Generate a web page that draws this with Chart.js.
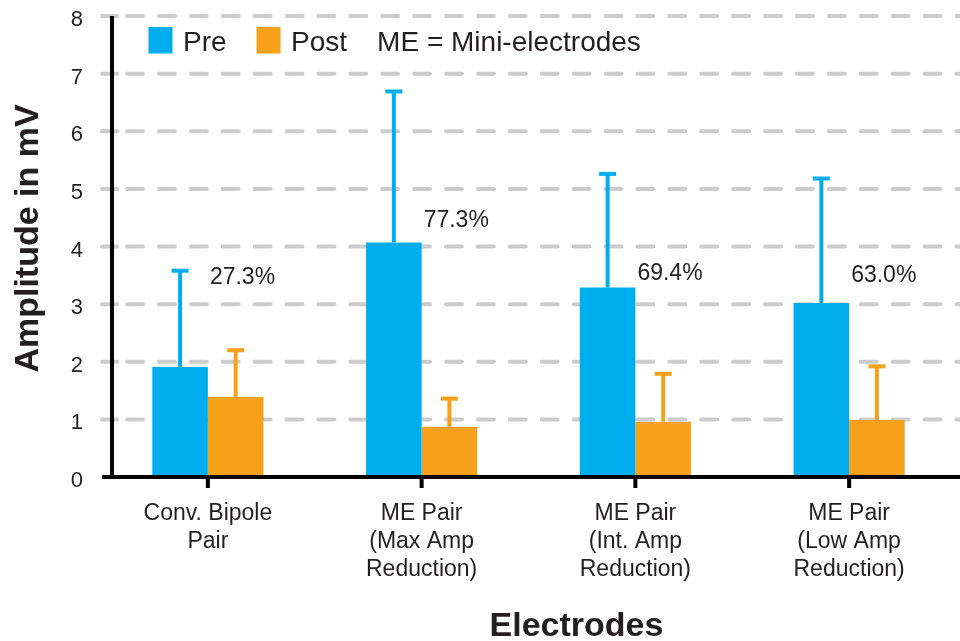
<!DOCTYPE html>
<html>
<head>
<meta charset="utf-8">
<script src="https://cdn.jsdelivr.net/npm/chart.js@4/dist/chart.umd.min.js"></script>
<style>
  html, body { margin: 0; padding: 0; background: #ffffff; }
  #wrap { width: 960px; height: 641px; }
</style>
</head>
<body>
<div id="wrap"><canvas id="chart" width="960" height="641"></canvas></div>
<script>
// Electrode groups (multi-line axis labels)
const categories = [
  ['Conv. Bipole', 'Pair'],
  ['ME Pair', '(Max Amp', 'Reduction)'],
  ['ME Pair', '(Int. Amp', 'Reduction)'],
  ['ME Pair', '(Low Amp', 'Reduction)']
];
// Mean amplitude (mV) before and after ablation
const preValues  = [1.91, 4.07, 3.29, 3.02];
const postValues = [1.39, 0.87, 0.96, 0.99];
// Standard deviation (upper error bar only)
const preSD  = [1.67, 2.62, 1.97, 2.16];
const postSD = [0.81, 0.49, 0.83, 0.93];
// Amplitude reduction per group
const reductionLabels = ['27.3%', '77.3%', '69.4%', '63.0%'];
const reductionLabelLevel = [3.5, 4.48, 3.56, 3.53];
const yTicks = [0, 1, 2, 3, 4, 5, 6, 7, 8];
const legendNote = 'ME = Mini-electrodes';

const BLUE = '#00AEEF';
const ORANGE = '#F7A11A';
const INK = '#231F20';
const FONT = '"Liberation Sans", Arial, Helvetica, sans-serif';

// Dashed horizontal grid with a short solid stub at the axis
const gridPlugin = {
  id: 'dashGrid',
  beforeDatasetsDraw(chart) {
    const ctx = chart.ctx;
    const y = chart.scales.y;
    ctx.save();
    ctx.strokeStyle = '#CCCCCC';
    ctx.lineWidth = 4;
    ctx.lineCap = 'round';
    yTicks.forEach(v => {
      if (v === 0) return;
      const py = y.getPixelForValue(v);
      ctx.setLineDash([]);
      ctx.beginPath();
      ctx.moveTo(102, py);
      ctx.lineTo(117, py);
      ctx.stroke();
      ctx.setLineDash([16, 15.9]);
      ctx.beginPath();
      ctx.moveTo(127, py);
      ctx.lineTo(962, py);
      ctx.stroke();
    });
    ctx.restore();
  }
};

// Axis lines, tick marks, error bars, reduction labels, legend, titles
const overlayPlugin = {
  id: 'overlay',
  afterDatasetsDraw(chart) {
    const ctx = chart.ctx;
    const xs = chart.scales.x;
    const ys = chart.scales.y;
    const zero = ys.getPixelForValue(0);
    const top = ys.getPixelForValue(8);

    ctx.save();

    // error bars
    const sds = [preSD, postSD];
    chart.data.datasets.forEach((ds, di) => {
      const meta = chart.getDatasetMeta(di);
      meta.data.forEach((bar, i) => {
        const yTop = ys.getPixelForValue(ds.data[i] + sds[di][i]);
        ctx.strokeStyle = ds.backgroundColor;
        ctx.lineCap = 'butt';
        ctx.lineWidth = 4;
        ctx.beginPath();
        ctx.moveTo(bar.x, bar.y);
        ctx.lineTo(bar.x, yTop);
        ctx.stroke();
        ctx.beginPath();
        ctx.moveTo(bar.x - 8.5, yTop);
        ctx.lineTo(bar.x + 8.5, yTop);
        ctx.stroke();
      });
    });

    // axis lines
    ctx.strokeStyle = '#000000';
    ctx.lineWidth = 4;
    ctx.lineCap = 'butt';
    ctx.beginPath();
    ctx.moveTo(112, top);
    ctx.lineTo(112, zero + 2);
    ctx.stroke();
    ctx.beginPath();
    ctx.moveTo(102, zero);
    ctx.lineTo(960, zero);
    ctx.stroke();
    categories.forEach((c, i) => {
      const px = xs.getPixelForValue(i);
      ctx.beginPath();
      ctx.moveTo(px, zero);
      ctx.lineTo(px, zero + 11);
      ctx.stroke();
    });

    // reduction percentages
    ctx.fillStyle = INK;
    ctx.font = '23px ' + FONT;
    ctx.textAlign = 'left';
    ctx.textBaseline = 'alphabetic';
    reductionLabels.forEach((t, i) => {
      const px = xs.getPixelForValue(i) + 2;
      const py = ys.getPixelForValue(reductionLabelLevel[i]) + 0.358 * 23;
      ctx.fillText(t, px, py);
    });

    // legend
    ctx.font = '28px ' + FONT;
    let lx = 148.5;
    const base = 50.7;
    chart.data.datasets.forEach(ds => {
      ctx.fillStyle = ds.backgroundColor;
      ctx.fillRect(lx, 27, 24, 26.5);
      lx += 24 + 10.5;
      ctx.fillStyle = INK;
      ctx.fillText(ds.label, lx, base);
      lx += ctx.measureText(ds.label).width + 30;
    });
    ctx.fillText(legendNote, lx, base);

    // axis titles
    ctx.font = 'bold 34px ' + FONT;
    ctx.textAlign = 'center';
    ctx.fillText('Electrodes', 576.5, 636);
    ctx.translate(38, 238.5);
    ctx.rotate(-Math.PI / 2);
    ctx.fillText('Amplitude in mV', 0, 0);

    ctx.restore();
  }
};

new Chart(document.getElementById('chart'), {
  type: 'bar',
  data: {
    labels: categories,
    datasets: [
      { label: 'Pre', data: preValues, backgroundColor: BLUE, borderWidth: 0,
        categoryPercentage: 0.52, barPercentage: 1.0 },
      { label: 'Post', data: postValues, backgroundColor: ORANGE, borderWidth: 0,
        categoryPercentage: 0.52, barPercentage: 1.0 }
    ]
  },
  options: {
    responsive: false,
    animation: false,
    devicePixelRatio: 1,
    layout: { padding: { top: 16, right: 4, left: 0, bottom: 0 } },
    plugins: {
      legend: { display: false },
      tooltip: { enabled: false }
    },
    scales: {
      x: {
        grid: { display: false, drawTicks: false, tickLength: 0 },
        border: { display: false },
        ticks: {
          color: INK,
          padding: 23,
          maxRotation: 0,
          autoSkip: false,
          font: { family: FONT, size: 23, lineHeight: 1.22 }
        },
        afterFit(scale) { scale.height = 164; }
      },
      y: {
        min: 0,
        max: 8,
        grid: { display: false, drawTicks: false, tickLength: 0 },
        border: { display: false },
        afterBuildTicks(scale) { scale.ticks = yTicks.map(v => ({ value: v })); },
        ticks: {
          color: INK,
          padding: 18,
          labelOffset: 4,
          font: { family: FONT, size: 22 }
        },
        afterFit(scale) {
          scale.width = 101;
          scale.paddingTop = 0;
          scale.paddingBottom = 0;
        }
      }
    }
  },
  plugins: [gridPlugin, overlayPlugin]
});
</script>
</body>
</html>
